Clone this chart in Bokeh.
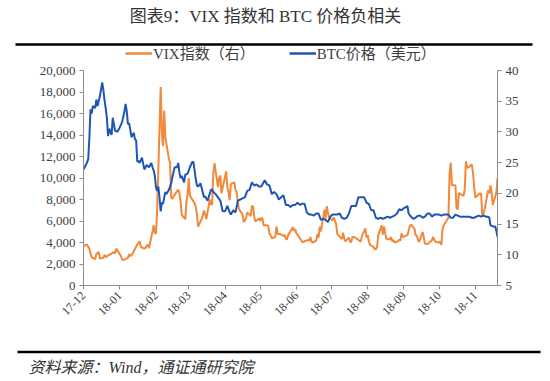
import pandas as pd
from bokeh.plotting import figure
from bokeh.models import (Range1d, LinearAxis, FixedTicker, NumeralTickFormatter,
                          DatetimeTickFormatter, Legend, LegendItem)
from bokeh.layouts import column
from bokeh.embed import file_html
from bokeh.resources import INLINE
from bokeh.core.properties import value

# ---------------- data ----------------
btc_dates = [
    "2017-12-01", "2017-12-03", "2017-12-05", "2017-12-06", "2017-12-07", "2017-12-08", "2017-12-09",
    "2017-12-11", "2017-12-12", "2017-12-13", "2017-12-15", "2017-12-17", "2017-12-18", "2017-12-19",
    "2017-12-20", "2017-12-21", "2017-12-22", "2017-12-23", "2017-12-25", "2017-12-26", "2017-12-28",
    "2017-12-30", "2018-01-01", "2018-01-03", "2018-01-05", "2018-01-06", "2018-01-07", "2018-01-08",
    "2018-01-09", "2018-01-10", "2018-01-11", "2018-01-13", "2018-01-14", "2018-01-15", "2018-01-16",
    "2018-01-17", "2018-01-18", "2018-01-20", "2018-01-22", "2018-01-24", "2018-01-26", "2018-01-28",
    "2018-01-29", "2018-01-30", "2018-01-31", "2018-02-01", "2018-02-02", "2018-02-03", "2018-02-04",
    "2018-02-05", "2018-02-06", "2018-02-07", "2018-02-08", "2018-02-09", "2018-02-10", "2018-02-12",
    "2018-02-14", "2018-02-15", "2018-02-17", "2018-02-19", "2018-02-20", "2018-02-21", "2018-02-22",
    "2018-02-23", "2018-02-25", "2018-02-26", "2018-02-28", "2018-03-02", "2018-03-04", "2018-03-05",
    "2018-03-06", "2018-03-07", "2018-03-08", "2018-03-09", "2018-03-11", "2018-03-12", "2018-03-14",
    "2018-03-15", "2018-03-17", "2018-03-18", "2018-03-20", "2018-03-21", "2018-03-22", "2018-03-24",
    "2018-03-26", "2018-03-28", "2018-03-30", "2018-04-01", "2018-04-03", "2018-04-05", "2018-04-06",
    "2018-04-08", "2018-04-10", "2018-04-12", "2018-04-14", "2018-04-16", "2018-04-18", "2018-04-20",
    "2018-04-22", "2018-04-24", "2018-04-26", "2018-04-28", "2018-04-30", "2018-05-02", "2018-05-05",
    "2018-05-07", "2018-05-09", "2018-05-11", "2018-05-13", "2018-05-15", "2018-05-17", "2018-05-19",
    "2018-05-21", "2018-05-23", "2018-05-25", "2018-05-27", "2018-05-29", "2018-05-31", "2018-06-02",
    "2018-06-04", "2018-06-06", "2018-06-08", "2018-06-10", "2018-06-12", "2018-06-14", "2018-06-16",
    "2018-06-18", "2018-06-20", "2018-06-22", "2018-06-24", "2018-06-26", "2018-06-28", "2018-06-30",
    "2018-07-02", "2018-07-04", "2018-07-06", "2018-07-08", "2018-07-10", "2018-07-12", "2018-07-14",
    "2018-07-16", "2018-07-18", "2018-07-20", "2018-07-22", "2018-07-24", "2018-07-25", "2018-07-27",
    "2018-07-29", "2018-07-31", "2018-08-02", "2018-08-04", "2018-08-06", "2018-08-08", "2018-08-10",
    "2018-08-12", "2018-08-14", "2018-08-16", "2018-08-18", "2018-08-20", "2018-08-22", "2018-08-24",
    "2018-08-26", "2018-08-28", "2018-08-30", "2018-09-01", "2018-09-03", "2018-09-04", "2018-09-05",
    "2018-09-07", "2018-09-09", "2018-09-11", "2018-09-13", "2018-09-15", "2018-09-17", "2018-09-19",
    "2018-09-21", "2018-09-23", "2018-09-25", "2018-09-27", "2018-09-29", "2018-10-01", "2018-10-03",
    "2018-10-05", "2018-10-07", "2018-10-09", "2018-10-11", "2018-10-13", "2018-10-15", "2018-10-17",
    "2018-10-19", "2018-10-21", "2018-10-23", "2018-10-25", "2018-10-27", "2018-10-29", "2018-10-31",
    "2018-11-02", "2018-11-04", "2018-11-06", "2018-11-08", "2018-11-10", "2018-11-12", "2018-11-13",
    "2018-11-14", "2018-11-16", "2018-11-18", "2018-11-19", "2018-11-20",
]
btc_values = [
    10800, 11200, 11700, 13700, 16400, 16000, 16700,
    16500, 17300, 16700, 17600, 18900, 18200, 17200,
    16500, 15600, 13900, 14600, 14000, 15600, 14400,
    14300, 14700, 15200, 16200, 16900, 16200, 15000,
    15100, 14500, 13800, 14200, 13600, 13500, 11500,
    11600, 11400, 11900, 10800, 11200, 11000, 11400,
    11000, 10700, 10200, 9100, 8800, 9200, 8200,
    6900, 7700, 7600, 8200, 8700, 8500, 8900,
    9500, 10100, 11000, 11000, 11400, 10500, 10000,
    10200, 9600, 10300, 10400, 11000, 11500, 11500,
    10700, 9900, 9300, 9200, 9500, 9100, 8200,
    8300, 7900, 8200, 8900, 8900, 8700, 8500,
    8200, 7900, 6900, 6900, 7400, 6800, 6600,
    7000, 6800, 7900, 8000, 8100, 8200, 8800,
    8900, 9600, 9300, 9400, 9200, 9200, 9800,
    9400, 9300, 8500, 8700, 8500, 8000, 8200,
    8400, 7500, 7500, 7300, 7500, 7500, 7700,
    7500, 7600, 7600, 6800, 6600, 6600, 6500,
    6700, 6700, 6100, 6200, 6100, 5900, 6400,
    6600, 6600, 6600, 6700, 6300, 6200, 6300,
    6700, 7400, 7400, 7400, 8200, 8200, 8200,
    8200, 7700, 7600, 7000, 7000, 6300, 6200,
    6300, 6200, 6300, 6400, 6300, 6400, 6500,
    6700, 7100, 7000, 7200, 7300, 7400, 6700,
    6400, 6200, 6300, 6500, 6500, 6300, 6400,
    6700, 6700, 6400, 6600, 6600, 6600, 6500,
    6600, 6600, 6600, 6300, 6300, 6600, 6500,
    6400, 6400, 6400, 6400, 6400, 6300, 6300,
    6400, 6500, 6400, 6500, 6400, 6400, 6300,
    5600, 5500, 5500, 5100, 4500,
]

vix_dates = [
    "2017-12-01", "2017-12-04", "2017-12-05", "2017-12-06", "2017-12-07", "2017-12-08", "2017-12-11",
    "2017-12-12", "2017-12-13", "2017-12-14", "2017-12-15", "2017-12-18", "2017-12-19", "2017-12-20",
    "2017-12-21", "2017-12-22", "2017-12-26", "2017-12-27", "2017-12-28", "2017-12-29",
    "2018-01-02", "2018-01-03", "2018-01-04", "2018-01-05", "2018-01-08", "2018-01-09", "2018-01-10",
    "2018-01-11", "2018-01-12", "2018-01-16", "2018-01-17", "2018-01-18", "2018-01-19", "2018-01-22",
    "2018-01-23", "2018-01-24", "2018-01-25", "2018-01-26", "2018-01-29", "2018-01-30", "2018-01-31",
    "2018-02-01", "2018-02-02", "2018-02-05", "2018-02-06", "2018-02-07", "2018-02-08", "2018-02-09",
    "2018-02-12", "2018-02-13", "2018-02-14", "2018-02-15", "2018-02-16", "2018-02-20", "2018-02-21",
    "2018-02-22", "2018-02-23", "2018-02-26", "2018-02-27", "2018-02-28",
    "2018-03-01", "2018-03-02", "2018-03-05", "2018-03-06", "2018-03-07", "2018-03-08", "2018-03-09",
    "2018-03-12", "2018-03-13", "2018-03-14", "2018-03-15", "2018-03-16", "2018-03-19", "2018-03-20",
    "2018-03-21", "2018-03-22", "2018-03-23", "2018-03-26", "2018-03-27", "2018-03-28", "2018-03-29",
    "2018-04-02", "2018-04-03", "2018-04-04", "2018-04-05", "2018-04-06", "2018-04-09", "2018-04-10",
    "2018-04-11", "2018-04-12", "2018-04-13", "2018-04-16", "2018-04-17", "2018-04-18", "2018-04-19",
    "2018-04-20", "2018-04-23", "2018-04-24", "2018-04-25", "2018-04-26", "2018-04-27", "2018-04-30",
    "2018-05-01", "2018-05-02", "2018-05-03", "2018-05-04", "2018-05-07", "2018-05-08", "2018-05-09",
    "2018-05-10", "2018-05-11", "2018-05-14", "2018-05-15", "2018-05-16", "2018-05-17", "2018-05-18",
    "2018-05-21", "2018-05-22", "2018-05-23", "2018-05-24", "2018-05-25", "2018-05-29", "2018-05-30",
    "2018-05-31", "2018-06-01", "2018-06-04", "2018-06-05", "2018-06-06", "2018-06-07", "2018-06-08",
    "2018-06-11", "2018-06-12", "2018-06-13", "2018-06-14", "2018-06-15", "2018-06-18", "2018-06-19",
    "2018-06-20", "2018-06-21", "2018-06-22", "2018-06-25", "2018-06-26", "2018-06-27", "2018-06-28",
    "2018-06-29", "2018-07-02", "2018-07-03", "2018-07-05", "2018-07-06", "2018-07-09", "2018-07-10",
    "2018-07-11", "2018-07-12", "2018-07-13", "2018-07-16", "2018-07-17", "2018-07-18", "2018-07-19",
    "2018-07-20", "2018-07-23", "2018-07-24", "2018-07-25", "2018-07-26", "2018-07-27", "2018-07-30",
    "2018-07-31", "2018-08-01", "2018-08-02", "2018-08-03", "2018-08-06", "2018-08-07", "2018-08-08",
    "2018-08-09", "2018-08-10", "2018-08-13", "2018-08-14", "2018-08-15", "2018-08-16", "2018-08-17",
    "2018-08-20", "2018-08-21", "2018-08-22", "2018-08-23", "2018-08-24", "2018-08-27", "2018-08-28",
    "2018-08-29", "2018-08-30", "2018-08-31", "2018-09-04", "2018-09-05", "2018-09-06", "2018-09-07",
    "2018-09-10", "2018-09-11", "2018-09-12", "2018-09-13", "2018-09-14", "2018-09-17", "2018-09-18",
    "2018-09-19", "2018-09-20", "2018-09-21", "2018-09-24", "2018-09-25", "2018-09-26", "2018-09-27",
    "2018-09-28", "2018-10-01", "2018-10-02", "2018-10-03", "2018-10-04", "2018-10-05", "2018-10-08",
    "2018-10-09", "2018-10-10", "2018-10-11", "2018-10-12", "2018-10-15", "2018-10-16", "2018-10-17",
    "2018-10-18", "2018-10-19", "2018-10-22", "2018-10-23", "2018-10-24", "2018-10-25", "2018-10-26",
    "2018-10-29", "2018-10-30", "2018-10-31", "2018-11-01", "2018-11-02", "2018-11-05", "2018-11-06",
    "2018-11-07", "2018-11-08", "2018-11-09", "2018-11-12", "2018-11-13", "2018-11-14", "2018-11-15",
    "2018-11-16", "2018-11-19", "2018-11-20",
]
vix_values = [
    11.4, 11.7, 11.3, 11.0, 10.2, 9.6, 9.3,
    10.2, 10.2, 10.5, 9.4, 9.5, 10.0, 9.7,
    9.7, 9.9, 10.3, 10.5, 10.2, 11.0,
    9.8, 9.2, 9.2, 9.2, 9.5, 10.1, 9.8,
    9.9, 10.2, 11.7, 11.9, 12.2, 11.3, 11.0,
    11.1, 11.5, 11.6, 11.1, 13.8, 14.8, 13.5,
    13.5, 17.3, 37.3, 29.9, 27.7, 33.5, 29.1,
    25.6, 25.0, 19.3, 19.1, 19.5, 20.6, 20.0,
    18.7, 16.5, 15.8, 18.6, 19.9,
    22.5, 19.6, 18.7, 18.4, 17.8, 16.5, 14.6,
    15.8, 16.4, 17.2, 16.6, 15.8, 19.0, 18.2,
    18.2, 23.3, 24.9, 21.0, 22.5, 22.9, 20.0,
    23.6, 21.1, 20.1, 18.9, 21.5, 21.8, 20.5,
    20.2, 18.5, 17.4, 16.6, 15.3, 15.6, 16.0,
    16.9, 16.3, 18.0, 17.8, 16.2, 15.4, 15.9,
    15.5, 16.0, 15.9, 14.8, 14.8, 14.7, 13.4,
    13.2, 12.7, 12.9, 14.6, 13.4, 13.4, 13.4,
    13.1, 13.2, 12.6, 12.5, 13.2, 14.5, 13.9,
    14.2, 13.5, 12.7, 12.4, 12.1, 12.1, 12.2,
    12.4, 12.3, 12.9, 12.1, 12.0, 12.3, 13.4,
    12.8, 14.6, 13.8, 17.3, 15.9, 17.9, 16.9,
    16.1, 15.6, 16.1, 15.0, 13.4, 12.7, 12.6,
    13.6, 12.6, 12.2, 12.8, 12.1, 12.1, 12.9,
    12.9, 12.6, 12.4, 12.3, 12.1, 13.0, 14.3,
    12.8, 13.2, 12.2, 11.6, 11.3, 10.9, 10.9,
    11.3, 13.2, 14.8, 13.3, 14.6, 13.5, 12.6,
    12.5, 12.9, 12.2, 12.4, 12.0, 12.2, 12.5,
    12.3, 13.5, 12.9, 13.2, 13.9, 14.7, 14.9,
    14.2, 13.2, 13.1, 12.4, 12.1, 13.7, 12.8,
    11.8, 11.8, 11.7, 12.2, 12.4, 12.9, 12.4,
    12.1, 12.0, 12.1, 11.6, 14.2, 14.8, 15.7,
    16.0, 23.0, 25.0, 21.3, 21.3, 17.6, 17.4,
    20.1, 19.9, 19.6, 20.7, 25.2, 24.2, 24.2,
    24.7, 23.4, 21.2, 19.3, 19.5, 20.0, 19.9,
    16.4, 16.7, 17.4, 20.5, 20.0, 21.3, 20.0,
    18.1, 20.1, 22.5,
]

month_ticks = ["2017-12-01", "2018-01-01", "2018-02-01", "2018-03-01", "2018-04-01", "2018-05-01",
               "2018-06-01", "2018-07-01", "2018-08-01", "2018-09-01", "2018-10-01", "2018-11-01"]
left_ticks = [0, 2000, 4000, 6000, 8000, 10000, 12000, 14000, 16000, 18000, 20000]
right_ticks = [5, 10, 15, 20, 25, 30, 35, 40]

title_text = "图表9：VIX 指数和 BTC 价格负相关"
source_text = "资料来源：Wind，通证通研究院"
vix_label = "VIX指数（右）"
btc_label = "BTC价格（美元）"

# ---------------- styling ----------------
W = 550
H_TOP, H_MAIN, H_BOT = 63, 277, 41
SERIF = "'Liberation Serif', 'Noto Sans CJK SC', serif"
ORANGE = "#F0893A"
BLUE = "#1F55B5"
AXIS_C = "#8c8c8c"
TEXT_C = "#404040"

def blank(height):
    f = figure(width=W, height=height, x_range=Range1d(0, W), y_range=Range1d(height, 0),
               x_axis_type=None, y_axis_type=None, output_backend="svg", toolbar_location=None,
               min_border=0, outline_line_color=None)
    f.grid.visible = False
    return f

# top: title + rule + legend (page y 0..63)
top = blank(H_TOP)
top.text(x=[265], y=[16], text=[title_text], text_align="center", text_baseline="middle",
         text_font=value(SERIF), text_font_size="17px", text_color="#333333")
top.line(x=[15, 532], y=[44, 44], line_color="black", line_width=2.5)
# legend keys: renderers placed outside the visible area, used only for the legend swatches
key_vix = top.line(x=[-30, -20], y=[-30, -30], line_color=ORANGE, line_width=2.5)
key_btc = top.line(x=[-30, -20], y=[-30, -30], line_color=BLUE, line_width=2.5)
legend = Legend(items=[LegendItem(label=vix_label, renderers=[key_vix]),
                       LegendItem(label=btc_label, renderers=[key_btc])],
                location=(125, 0), orientation="horizontal", padding=0, margin=0,
                spacing=34, glyph_width=27, glyph_height=14, label_height=14, label_standoff=1,
                label_text_font=SERIF, label_text_font_size="15px", label_text_color=TEXT_C,
                border_line_color=None, background_fill_alpha=0)
top.add_layout(legend, "center")

# main chart (page y 63..340, frame 70..285, x 83..497)
xs = pd.to_datetime(btc_dates)
xv = pd.to_datetime(vix_dates)
p = figure(width=W, height=H_MAIN, x_axis_type="datetime",
           x_range=Range1d(pd.Timestamp("2017-12-01"), pd.Timestamp("2018-11-20")),
           y_range=Range1d(0, 20000), output_backend="svg", toolbar_location=None,
           min_border_left=83, min_border_right=53, min_border_top=7, min_border_bottom=55,
           outline_line_color=None)
p.extra_y_ranges = {"right": Range1d(5, 40)}
p.grid.visible = False

p.line(xv, vix_values, y_range_name="right", line_color=ORANGE, line_width=2)
p.line(xs, btc_values, line_color=BLUE, line_width=2)

raxis = LinearAxis(y_range_name="right")
p.add_layout(raxis, "right")

p.xaxis.ticker = FixedTicker(ticks=[pd.Timestamp(d).value / 1e6 for d in month_ticks])
p.xaxis.formatter = DatetimeTickFormatter(days="%y-%m", months="%y-%m", years="%y-%m")
p.xaxis.major_label_orientation = 0.785
p.yaxis[0].ticker = FixedTicker(ticks=left_ticks)
p.yaxis[0].formatter = NumeralTickFormatter(format="0,0")
raxis.ticker = FixedTicker(ticks=right_ticks)

for ax in p.axis:
    ax.axis_line_color = AXIS_C
    ax.major_tick_line_color = AXIS_C
    ax.minor_tick_line_color = None
    ax.major_tick_in = 0
    ax.major_tick_out = 4
    ax.major_label_text_font = SERIF
    ax.major_label_text_font_size = "13px"
    ax.major_label_text_color = TEXT_C
    ax.major_label_standoff = 4
p.xaxis.major_label_text_font_size = "12px"

# bottom: rule + source (page y 340..381)
bot = blank(H_BOT)
bot.line(x=[17, 540], y=[11.5, 11.5], line_color="black", line_width=2.5)
bot.text(x=[28], y=[26.5], text=[source_text], text_align="left", text_baseline="middle",
         text_font=value(SERIF), text_font_size="16px", text_font_style="italic",
         text_color="#333333")

layout = column(
    column(top, width=W, height=H_TOP, sizing_mode="fixed"),
    column(p, width=W, height=H_MAIN, sizing_mode="fixed"),
    column(bot, width=W, height=H_BOT, sizing_mode="fixed"),
    width=W, height=H_TOP + H_MAIN + H_BOT, sizing_mode="fixed", spacing=0)
open("out.html", "w").write(file_html(layout, INLINE))
